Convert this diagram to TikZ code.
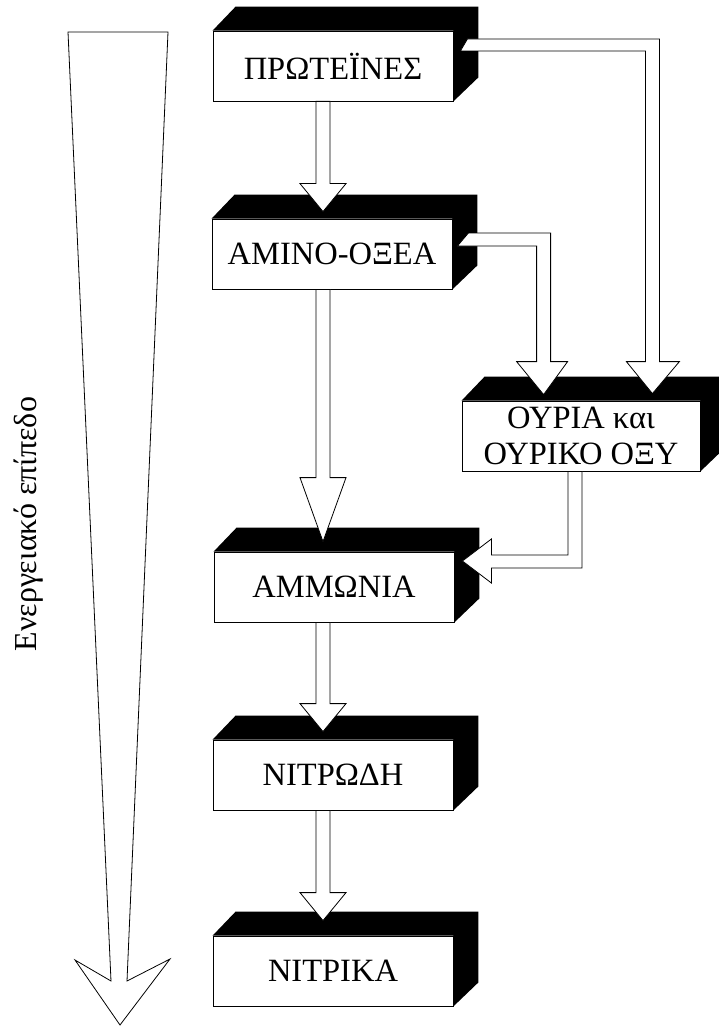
\documentclass[tikz,border=0pt]{standalone}
\usepackage{fontspec}
\setmainfont{Liberation Serif}
\usetikzlibrary{calc}

\tikzset{
  box/.style={draw, fill=white, line width=0.8pt, minimum width=240pt,
    minimum height=70pt, inner sep=0pt, font=\fontsize{32.5}{36}\selectfont},
  blockarrow/.style={draw, fill=white, line width=0.8pt, line join=miter},
}

% straight hollow arrow down from a box to a tip
\newcommand{\vblock}[3]{%
  \draw[blockarrow] let \p1=(#1.south), \p2=(#2) in
    (\x2-7pt,\y1) -- (\x2-7pt,\y2+#3) -- (\x2-23pt,\y2+#3) -- (\x2,\y2)
    -- (\x2+23pt,\y2+#3) -- (\x2+7pt,\y2+#3) -- (\x2+7pt,\y1) -- cycle;}

\begin{document}
\begin{tikzpicture}[x=1pt,y=-1pt]
  \path[use as bounding box] (0,0) rectangle (719,1027);
  \clip (0,0) rectangle (719,1027);

  % energy level
  \draw[blockarrow] (68,32) -- (168,32) -- (127,981) -- (170,959)
    -- (120,1025) -- (75,960) -- (111,981) -- cycle;
  \node[rotate=90, anchor=base, font=\fontsize{32}{36}\selectfont]
    (level) at (36,524) {Ενεργειακό επίπεδο};

  % boxes
  \node[box] (prot)    at (333,66)  {ΠΡΩΤΕΪΝΕΣ};
  \node[box] (amino)   at (332,254) {ΑΜΙΝΟ-ΟΞΕΑ};
  \node[box, minimum width=238pt, align=center]
             (ouria)   at (581,436) {ΟΥΡΙΑ και\hspace{8pt}\\ΟΥΡΙΚΟ ΟΞΥ};
  \node[box] (ammonia) at (334,587) {ΑΜΜΩΝΙΑ};
  \node[box] (nitrodi) at (333,775) {ΝΙΤΡΩΔΗ};
  \node[box] (nitrika) at (333,971) {ΝΙΤΡΙΚΑ};

  % black top and side faces
  \foreach \n in {prot,amino,ouria,ammonia,nitrodi,nitrika}
    \fill (\n.north west) -- ++(23,-24) -- ($(\n.north east)+(25,-24)$)
      -- ($(\n.south east)+(25,-24)$) -- (\n.south east)
      -- (\n.north east) -- cycle;

  % tips
  \coordinate (t1) at ($(amino.north)+(-9,-7)$);
  \coordinate (t2) at ($(ammonia.north)+(-11,-10)$);
  \coordinate (t3) at ($(nitrodi.north)+(-10,-8)$);
  \coordinate (t4) at ($(nitrika.north)+(-10,-15)$);
  \coordinate (s5) at ($(prot.east)+(7,-15)$);
  \coordinate (t5) at ($(ouria.north east)+(-48,-7)$);
  \coordinate (s6) at ($(amino.east)+(5,-8)$);
  \coordinate (t6) at ($(ouria.north west)+(82,-6)$);
  \coordinate (s7) at ($(ouria.south)+(-6,0)$);
  \coordinate (t7) at ($(ammonia.east)+(8,-26)$);

  \vblock{prot}{t1}{28pt}
  \vblock{amino}{t2}{64pt}
  \vblock{ammonia}{t3}{28pt}
  \vblock{nitrodi}{t4}{28pt}

  \draw[blockarrow] let \p1=(s5), \p2=(t5) in
    (\x1,\y1) -- (\x1+7pt,\y1+12pt) -- (\x2+7pt,\y1+12pt) -- (\x2+7pt,\y2+32pt)
    -- (\x2+27pt,\y2+32pt) -- (\x2,\y2) -- (\x2-26pt,\y2+32pt)
    -- (\x2-7pt,\y2+32pt) -- (\x2-7pt,\y1) -- cycle;
  \draw[blockarrow] let \p1=(s6), \p2=(t6) in
    (\x1,\y1) -- (\x1+11pt,\y1+13pt) -- (\x2+7pt,\y1+13pt) -- (\x2+7pt,\y2+33pt)
    -- (\x2+24pt,\y2+33pt) -- (\x2,\y2) -- (\x2-27pt,\y2+33pt)
    -- (\x2-7pt,\y2+33pt) -- (\x2-7pt,\y1) -- cycle;
  \draw[blockarrow] let \p1=(s7), \p2=(t7) in
    (\x1-7pt,\y1) -- (\x1-7pt,\y2+6pt) -- (\x2+29pt,\y2+6pt) -- (\x2+29pt,\y2+22pt)
    -- (\x2,\y2) -- (\x2+29pt,\y2-22pt) -- (\x2+29pt,\y2-7pt)
    -- (\x1+7pt,\y2-7pt) -- (\x1+7pt,\y1) -- cycle;
\end{tikzpicture}
\end{document}
